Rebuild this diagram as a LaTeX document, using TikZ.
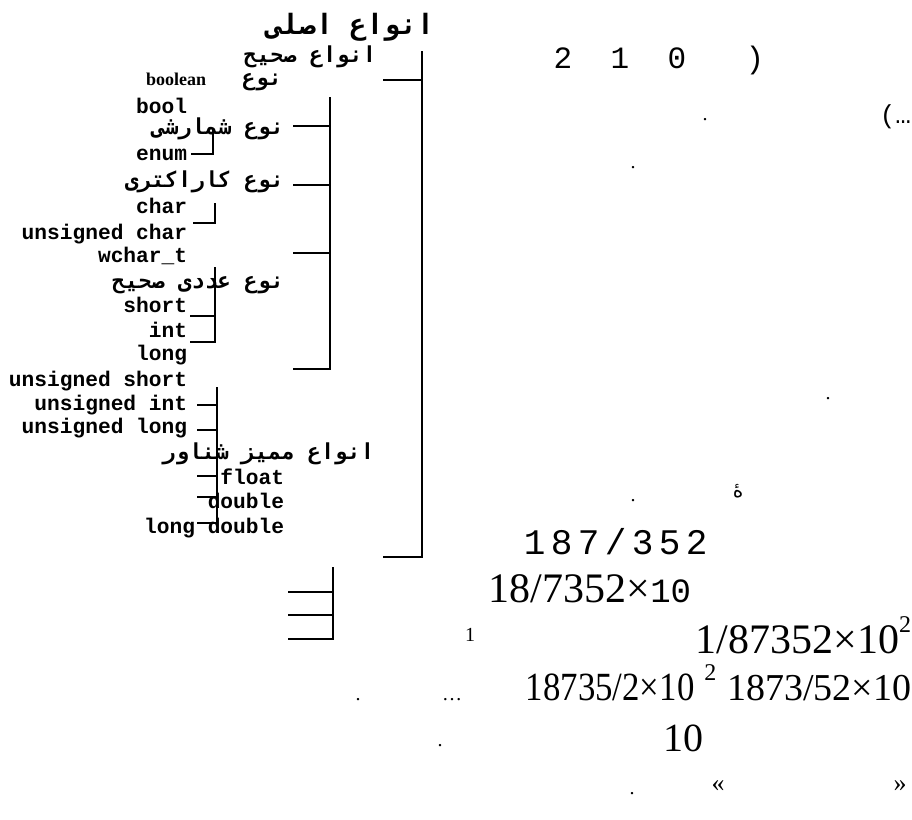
\documentclass[tikz,border=0pt]{standalone}
\usepackage{fontspec}
\TeXXeTstate=1
\newfontfamily\arabicfont[Script=Arabic]{DejaVu Sans Mono}
\newfontfamily\farsifont[Script=Arabic]{DejaVu Sans}
\newfontfamily\monofont{Liberation Mono}
\newfontfamily\spacedmono[LetterSpace=15]{Liberation Mono}
\newfontfamily\timesfont{Liberation Serif}
\newcommand\narrowed[1]{\scalebox{0.87}[1]{#1}}
\usetikzlibrary{positioning}
\begin{document}
\begin{tikzpicture}[x=0.5pt,y=-0.5pt,line width=0.9pt,
  tname/.style={font=\monofont\bfseries\fontsize{10.6}{12}\selectfont,anchor=base east,inner sep=0pt},
  faname/.style={font=\arabicfont\bfseries\fontsize{11}{13}\selectfont,anchor=base east,inner sep=0pt},
  digit/.style={font=\monofont\fontsize{15.5}{18}\selectfont,anchor=base,inner sep=0pt},
  numrow/.style={font=\timesfont\fontsize{20}{24}\selectfont,inner sep=0pt},
  pdot/.style={font=\timesfont\fontsize{10}{12}\selectfont,anchor=base,inner sep=0pt}]
\useasboundingbox (0,0) rectangle (912,820);
% headings
\node[faname,font=\arabicfont\bfseries\fontsize{14}{16}\selectfont] (main) at (435,34) {\beginR انواع اصلی\endR};
\node[faname] (intg) at (377,62) {\beginR انواع صحیح\endR};
\node[faname] (boolh) at (283,85) {\beginR نوع\endR};
\node[font=\timesfont\bfseries\fontsize{9}{11}\selectfont,anchor=base east,inner sep=0pt] (boolw) at (207,85) {boolean};
\node[faname] (enumh) at (285,134) {\beginR نوع شمارشی\endR};
\node[faname] (charh) at (285,187) {\beginR نوع کاراکتری\endR};
\node[faname] (inth) at (285,288) {\beginR نوع عددی صحیح\endR};
\node[faname] (flth) at (375,459) {\beginR انواع ممیز شناور\endR};
% type keywords
\foreach \n/\t/\y in {bl/bool/113,en/enum/160,ch/char/213,uc/unsigned char/239,wc/wchar\_t/262,
  sh/short/312,in/int/337,lo/long/360,us/unsigned short/386,ui/unsigned int/410,ul/unsigned long/433}
  {\node[tname] (\n) at (188,\y) {\t};}
\foreach \n/\t/\y in {fl/float/484,db/double/508,ld/long double/533}
  {\node[tname] (\n) at (285,\y) {\t};}
% brackets
\draw (383,80) -- (422,80) (422,51) -- (422,557) -- (383,557);
\draw (330,97) -- (330,369) -- (293,369);
\foreach \y in {126,185,253} \draw (293,\y) -- (330,\y);
\draw (213,130) -- (213,154) -- (191,154);
\draw (215,203) -- (215,223) -- (193,223);
\draw (215,267) -- (215,342) -- (190,342) (190,316) -- (215,316);
\draw (217,387) -- (217,523) -- (197,523);
\foreach \y in {405,430,476,497} \draw (197,\y) -- (217,\y);
\draw (333,567) -- (333,639) -- (288,639);
\foreach \y in {592,615} \draw (288,\y) -- (333,\y);
% right column
\foreach \n/\t/\x in {d2/2/563,d1/1/620,d0/0/677,pr/)/755}
  {\node[digit] (\n) at (\x,68) {\t};}
\node[pdot] (p1) at (705,120) {.};
\node[digit,font=\monofont\fontsize{13}{15}\selectfont,anchor=base east] (etc) at (912,123) {(…};
\node[pdot] (p2) at (633,168) {.};
\node[pdot] (p3) at (828,399) {.};
\node[font=\farsifont\fontsize{10}{12}\selectfont,anchor=base,inner sep=0pt] (he) at (738,497) {\beginR هٔ\endR};
\node[pdot] (p4) at (633,501) {.};
\node[font=\spacedmono\fontsize{18}{20}\selectfont,anchor=base west,inner sep=0pt] (n1) at (523,554) {187/352};
\node[numrow,font=\timesfont\fontsize{21}{25}\selectfont,anchor=base west] (n2) at (488,602) {18/7352×{\monofont\fontsize{17}{20}\selectfont 10}};
\node[pdot] (s1) at (470,641) {1};
\node[numrow,font=\timesfont\fontsize{21}{25}\selectfont,anchor=base east] (n3) at (912,653) {1/87352×10\raisebox{0.5em}{\fontsize{12}{12}\selectfont 2}};
\node[pdot] (p5) at (358,700) {.};
\node[pdot] (el) at (452,700) {…};
\node[numrow,anchor=base west] (n4) at (525,700) {\narrowed{18735/2×10} \raisebox{0.5em}{\fontsize{12}{12}\selectfont 2}};
\node[numrow,font=\timesfont\fontsize{19}{23}\selectfont,anchor=base east] (n5) at (912,700) {1873/52×10};
\node[pdot] (p6) at (440,746) {.};
\node[numrow,anchor=base] (n6) at (683,751) {10};
\node[pdot] (p7) at (632,794) {.};
\node[pdot,font=\timesfont\fontsize{13}{15}\selectfont] (ql) at (718,791) {«};
\node[pdot,font=\timesfont\fontsize{13}{15}\selectfont] (qr) at (900,791) {»};
\end{tikzpicture}
\end{document}
